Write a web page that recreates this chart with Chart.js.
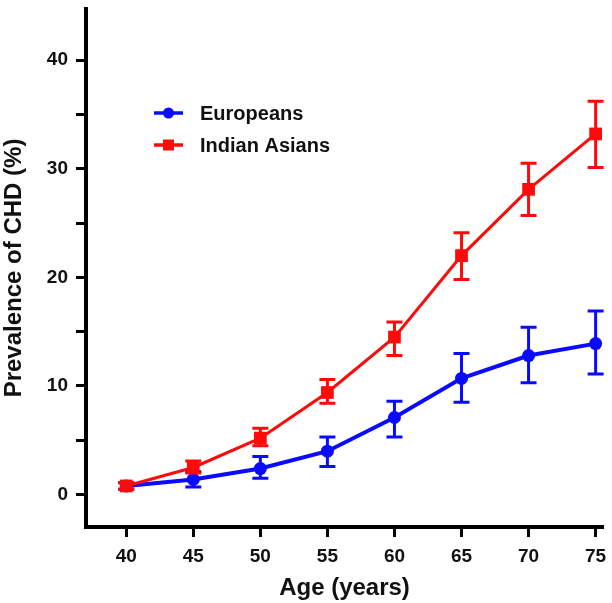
<!DOCTYPE html>
<html>
<head>
<meta charset="utf-8">
<script src="https://cdn.jsdelivr.net/npm/chart.js@4/dist/chart.umd.min.js"></script>
<style>
  html, body { margin: 0; padding: 0; background: #ffffff; }
  #wrap { width: 612px; height: 603px; }
</style>
</head>
<body>
<div id="wrap"><canvas id="c" width="612" height="603"></canvas></div>
<script>
// ---- data ----
const ages = [40, 45, 50, 55, 60, 65, 70, 75];
const xTickValues = [40, 45, 50, 55, 60, 65, 70, 75];
const yTickValues = [0, 5, 10, 15, 20, 25, 30, 35, 40];

const europeans     = [0.8, 1.4, 2.4, 4.0, 7.1, 10.7, 12.8, 13.9];
const europeansLow  = [0.5, 0.7, 1.5, 2.6, 5.3, 8.5, 10.3, 11.1];
const europeansHigh = [1.1, 2.1, 3.5, 5.3, 8.6, 13.0, 15.4, 16.9];

const indianAsians     = [0.8, 2.5, 5.2, 9.4, 14.5, 22.0, 28.1, 33.2];
const indianAsiansLow  = [0.5, 2.0, 4.5, 8.4, 12.8, 19.8, 25.7, 30.1];
const indianAsiansHigh = [1.1, 3.1, 6.1, 10.6, 15.9, 24.1, 30.5, 36.2];

const seriesNames = ['Europeans', 'Indian Asians'];
const BLUE = '#0a0aff';
const RED = '#ff0a0a';
const FONT = "'Liberation Sans', Arial, Helvetica, sans-serif";

const toPoints = (xs, ys) => xs.map((x, i) => ({ x: x, y: ys[i] }));

const errorData = [
  { low: europeansLow, high: europeansHigh },
  { low: indianAsiansLow, high: indianAsiansHigh }
];

const errorBarPlugin = {
  id: 'errorBars',
  afterDatasetDraw(chart, args) {
    const i = args.index;
    const err = errorData[i];
    if (!err) return;
    const ds = chart.data.datasets[i];
    const xs = chart.scales.x, ys = chart.scales.y;
    const ctx = chart.ctx;
    ctx.save();
    ctx.strokeStyle = ds.borderColor;
    ctx.lineWidth = 3;
    ctx.lineCap = 'butt';
    ages.forEach((a, k) => {
      const px = xs.getPixelForValue(a);
      const pl = ys.getPixelForValue(err.low[k]);
      const ph = ys.getPixelForValue(err.high[k]);
      const cap = 8;
      ctx.beginPath();
      ctx.moveTo(px, pl); ctx.lineTo(px, ph);
      ctx.moveTo(px - cap, pl); ctx.lineTo(px + cap, pl);
      ctx.moveTo(px - cap, ph); ctx.lineTo(px + cap, ph);
      ctx.stroke();
    });
    ctx.restore();
  }
};

const legendPlugin = {
  id: 'insideLegend',
  afterDraw(chart) {
    const ctx = chart.ctx;
    const items = [
      { label: seriesNames[0], color: BLUE, shape: 'circle', y: 113 },
      { label: seriesNames[1], color: RED, shape: 'square', y: 145 }
    ];
    ctx.save();
    items.forEach(it => {
      ctx.strokeStyle = it.color;
      ctx.fillStyle = it.color;
      ctx.lineWidth = 3.5;
      ctx.beginPath();
      ctx.moveTo(154, it.y); ctx.lineTo(183, it.y);
      ctx.stroke();
      if (it.shape === 'circle') {
        ctx.beginPath();
        ctx.arc(168.5, it.y, 5.5, 0, Math.PI * 2);
        ctx.fill();
      } else {
        ctx.fillRect(168.5 - 5.5, it.y - 5.5, 11, 11);
      }
      ctx.fillStyle = '#111111';
      ctx.font = 'bold 20px ' + FONT;
      ctx.textBaseline = 'middle';
      ctx.textAlign = 'left';
      ctx.fillText(it.label, 200, it.y + 1);
    });
    ctx.restore();
  }
};

new Chart(document.getElementById('c'), {
  type: 'line',
  data: {
    datasets: [
      {
        label: seriesNames[0],
        data: toPoints(ages, europeans),
        borderColor: BLUE,
        backgroundColor: BLUE,
        borderWidth: 4,
        pointStyle: 'circle',
        pointRadius: 6.5,
        pointBorderWidth: 0,
        tension: 0,
        order: 2
      },
      {
        label: seriesNames[1],
        data: toPoints(ages, indianAsians),
        borderColor: RED,
        backgroundColor: RED,
        borderWidth: 3,
        pointStyle: 'rect',
        pointRadius: 9,
        pointBorderWidth: 0,
        tension: 0,
        order: 1
      }
    ]
  },
  options: {
    responsive: false,
    animation: false,
    events: [],
    layout: { padding: { top: 0, right: 0, left: 0, bottom: 0 } },
    plugins: { legend: { display: false }, tooltip: { enabled: false } },
    scales: {
      x: {
        type: 'linear',
        min: 37,
        max: 75.55,
        afterBuildTicks: (s) => { s.ticks = xTickValues.map(v => ({ value: v })); },
        afterFit: (s) => { s.height = 76; s.paddingLeft = 0; s.paddingRight = 0; },
        grid: {
          drawOnChartArea: false,
          drawTicks: true,
          tickLength: 10,
          tickWidth: 3,
          tickColor: '#000000'
        },
        border: { display: true, color: '#000000', width: 4 },
        ticks: {
          color: '#111111',
          font: { family: FONT, size: 19, weight: 'bold' },
          padding: 8,
          maxRotation: 0,
          autoSkip: false
        },
        title: {
          display: true,
          text: 'Age (years)',
          color: '#111111',
          font: { family: FONT, size: 24, weight: 'bold' },
          padding: { top: 2, bottom: 0 }
        }
      },
      y: {
        type: 'linear',
        min: -2.98,
        max: 44.7,
        afterBuildTicks: (s) => { s.ticks = yTickValues.map(v => ({ value: v })); },
        afterFit: (s) => { s.width = 86; s.paddingTop = 0; s.paddingBottom = 0; },
        grid: {
          drawOnChartArea: false,
          drawTicks: true,
          tickLength: 10,
          tickWidth: 3,
          tickColor: '#000000'
        },
        border: { display: true, color: '#000000', width: 4 },
        ticks: {
          color: '#111111',
          font: { family: FONT, size: 19, weight: 'bold' },
          padding: 8,
          autoSkip: false,
          callback: (v) => (v % 10 === 0 ? String(v) : '')
        },
        title: {
          display: true,
          text: 'Prevalence of CHD (%)',
          color: '#111111',
          font: { family: FONT, size: 24, weight: 'bold' },
          padding: { top: 0, bottom: 0 }
        }
      }
    }
  },
  plugins: [errorBarPlugin, legendPlugin]
});
</script>
</body>
</html>
